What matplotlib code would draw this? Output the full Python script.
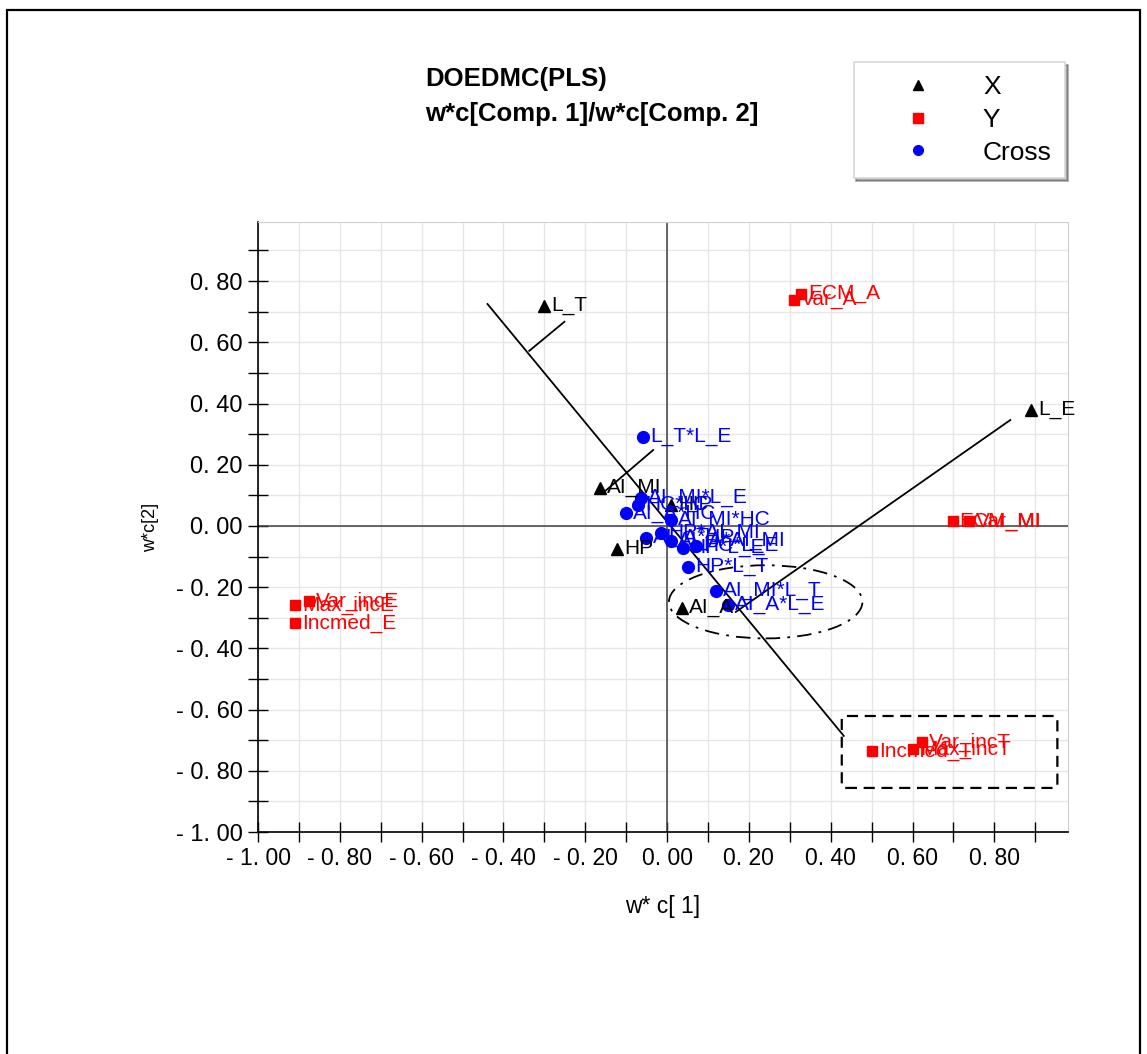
import matplotlib
matplotlib.use("Agg")
import matplotlib.pyplot as plt
from matplotlib.patches import Ellipse, FancyBboxPatch, Rectangle
from matplotlib.lines import Line2D
import numpy as np

# ---- loadings w*c[1], w*c[2] ----
x_names = ["L_T", "L_E", "AI_MI", "HC", "HP", "AI_A"]
x_c1 = [-0.300, 0.890, -0.163, 0.010, -0.122, 0.037]
x_c2 = [0.719, 0.379, 0.124, 0.070, -0.075, -0.268]

y_names = ["Max_incE", "Var_incE", "Incmed_E", "ECM_A", "Var_A",
           "ECM_MI", "Var_MI", "Incmed_T", "Max_incT", "Var_incT"]
y_c1 = [-0.910, -0.876, -0.910, 0.327, 0.310, 0.698, 0.739, 0.502, 0.602, 0.624]
y_c2 = [-0.258, -0.245, -0.317, 0.758, 0.739, 0.016, 0.016, -0.735, -0.729, -0.706]

cross_names = ["L_T*L_E", "AI_MI*L_E", "HC*HP", "AI_A*HC", "AI_MI*HC",
               "HP*AI_MI", "AI_A*HP", "AI_A*AI_MI", "HP*L_E", "HC*L_E",
               "HP*L_T", "AI_MI*L_T", "AI_A*L_E"]
cross_c1 = [-0.059, -0.063, -0.071, -0.100, 0.010, -0.015, -0.051, 0.010,
            0.039, 0.071, 0.051, 0.120, 0.149]
cross_c2 = [0.291, 0.092, 0.069, 0.042, 0.020, -0.023, -0.039, -0.049,
            -0.072, -0.065, -0.134, -0.212, -0.258]

x_ticks = np.round(np.arange(-1.0, 0.95, 0.1), 2)
y_ticks = np.round(np.arange(-1.0, 0.95, 0.1), 2)


def spaced(v):
    if abs(v) < 1e-9:
        v = 0.0
    s = f"{abs(v):.2f}".replace(".", ". ")
    return ("- " + s) if v < 0 else s


W, H = 1147, 1054
fig = plt.figure(figsize=(W / 100, H / 100), dpi=100)
fig.patch.set_facecolor("white")

# outer frame of the page
fig.add_artist(Rectangle((7 / W, -0.01), (1140 - 7) / W, 1 - 10 / H + 0.01,
                         transform=fig.transFigure, fill=False,
                         edgecolor="black", linewidth=1.6))

ax = fig.add_axes([258 / W, 1 - 832 / H, (1068 - 258) / W, (832 - 222) / H])
ax.set_xlim(-1.0, 0.98)
ax.set_ylim(-1.0, 0.993)

ax.set_xticks(x_ticks)
ax.set_yticks(y_ticks)
ax.set_xticklabels([spaced(v) if round(v * 10) % 2 == 0 else "" for v in x_ticks],
                   family="Liberation Sans", fontsize=16.5)
ax.set_yticklabels([spaced(v) if round(v * 10) % 2 == 0 else "" for v in y_ticks],
                   family="Liberation Sans", fontsize=17)
ax.tick_params(direction="inout", length=14, width=1, pad=4)
ax.grid(True, color="#e6e6e6", linewidth=1)
ax.set_axisbelow(True)
for s in ["top", "right"]:
    ax.spines[s].set_color("#cfcfcf")
for s in ["left", "bottom"]:
    ax.spines[s].set_linewidth(1.2)

ax.axhline(0, color="#404040", linewidth=1.1, zorder=1)
ax.axvline(0, color="#404040", linewidth=1.1, zorder=1)

lab_font = dict(family="Liberation Sans", fontsize=15)
ax.plot(x_c1, x_c2, linestyle="none", marker="^", color="black", markersize=8, zorder=4)
ax.plot(y_c1, y_c2, linestyle="none", marker="s", color="#ff0000", markersize=7.5, zorder=4)
ax.plot(cross_c1, cross_c2, linestyle="none", marker="o", color="#0000ff", markersize=8.5, zorder=4)

for n, a, b in zip(x_names, x_c1, x_c2):
    ax.annotate(n, (a, b), xytext=(5, 0), textcoords="offset points",
                va="center", ha="left", color="black", zorder=5, **lab_font)
for n, a, b in zip(y_names, y_c1, y_c2):
    ax.annotate(n, (a, b), xytext=(5, 0), textcoords="offset points",
                va="center", ha="left", color="#ff0000", zorder=5, **lab_font)
for n, a, b in zip(cross_names, cross_c1, cross_c2):
    ax.annotate(n, (a, b), xytext=(5, 0), textcoords="offset points",
                va="center", ha="left", color="#0000ff", zorder=5, **lab_font)

# hand-drawn annotation lines, ellipse and box
for (x0, y0, x1, y1) in [(-0.439, 0.725, 0.432, -0.686),
                         (-0.337, 0.572, -0.251, 0.667),
                         (-0.034, 0.248, -0.154, 0.111),
                         (0.168, -0.281, 0.839, 0.346)]:
    ax.plot([x0, x1], [y0, y1], color="black", linewidth=1.3, zorder=3)

ax.add_patch(Ellipse((0.241, -0.248), 0.473, 0.239, fill=False,
                     edgecolor="black", linestyle=(0, (8, 4, 1.5, 4)),
                     linewidth=1.3, zorder=3))
ax.add_patch(FancyBboxPatch((0.427, -0.856), 0.527, 0.235,
                            boxstyle="round,pad=0,rounding_size=0.01",
                            fill=False, edgecolor="black",
                            linestyle=(0, (5, 3)), linewidth=1.6, zorder=3))

ax.set_xlabel("w* c[ 1]", family="Liberation Sans", fontsize=16.5, labelpad=18)
ax.set_ylabel("w*c[2]", family="Liberation Sans", fontsize=13, labelpad=12)

# title block
fig.text(425 / W, 1 - 79 / H, "DOEDMC(PLS)", family="Liberation Sans",
         fontweight="bold", fontsize=18.5, va="center", ha="left")
fig.text(425 / W, 1 - 114 / H, "w*c[Comp. 1]/w*c[Comp. 2]", family="Liberation Sans",
         fontweight="bold", fontsize=18.5, va="center", ha="left")

# legend
handles = [Line2D([], [], linestyle="none", marker="^", color="black", markersize=7),
           Line2D([], [], linestyle="none", marker="s", color="#ff0000", markersize=6.5),
           Line2D([], [], linestyle="none", marker="o", color="#0000ff", markersize=7)]
leg = fig.legend(handles, ["X", "Y", "Cross"], loc="upper right",
                 bbox_to_anchor=(1065 / W, 1 - 62 / H), frameon=True, fancybox=False,
                 shadow=True, borderaxespad=0, borderpad=0.5, handlelength=3.9,
                 handletextpad=0.5, labelspacing=0.33,
                 prop=dict(family="Liberation Sans", size=19))
leg.get_frame().set_edgecolor("#d8d8d8")
leg.get_frame().set_linewidth(1.2)

fig.savefig("out.png", dpi=100, facecolor="white")
